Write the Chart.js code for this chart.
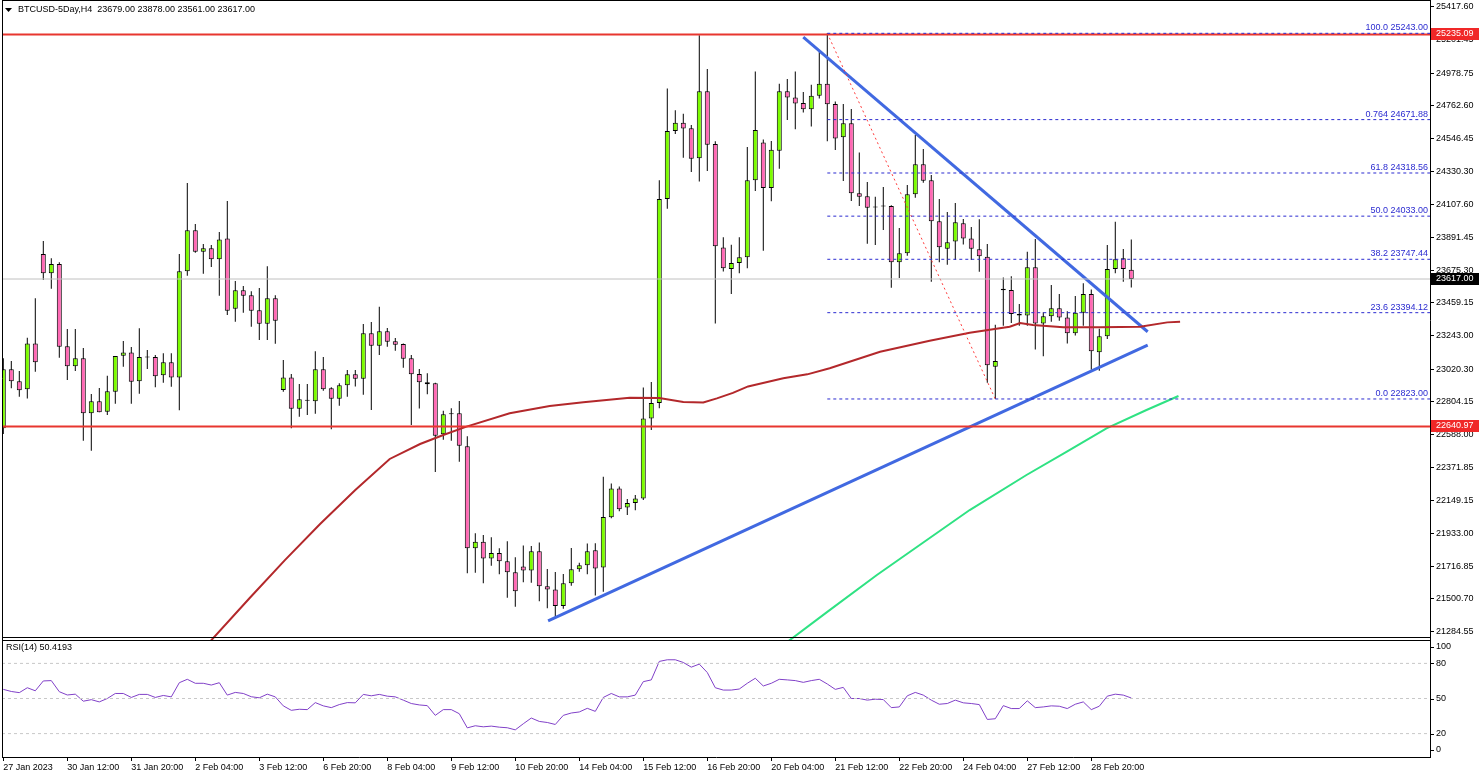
<!DOCTYPE html>
<html>
<head>
<meta charset="utf-8">
<title>BTCUSD-5Day, H4</title>
<script src="https://cdn.jsdelivr.net/npm/chart.js@4.4.0/dist/chart.umd.min.js"></script>
<style>
  html, body { margin: 0; padding: 0; background: #fff; }
  #wrap { width: 1480px; height: 777px; }
</style>
</head>
<body>
<div id="wrap"><canvas id="btc" width="1480" height="777"></canvas></div>
<script>
// H4 candles, one per bar index (27 Jan 2023 -> 1 Mar 2023)
const opens = [
  22629,23019,22940,22887,23191, 23782,23655,23716,23172,23040,
  23092,22728,22808,22739,22871, 23109,23131,22940,23101,23101,
  22980,23066,22966,23668,23939, 23798,23820,23747,23885,23420,
  23542,23509,23410,23321,23489, 22882,22966,22759,22816,22808,
  23019,22894,22825,22914,22986, 22957,23258,23176,23271,23205,
  23187,23092,22988,22933,22927, 22589,22726,22728,22510,21835,
  21878,21768,21804,21749,21676, 21715,21688,21815,21583,21563,
  21453,21603,21696,21722,21822, 21708,22040,22231,22105,22135,
  22164,22694,22796,24147,24596, 24651,24615,24416,24859,24511,
  23826,23683,23723,23761,24270, 24521,24219,24465,24859,24818,
  24782,24741,24830,24909,24775, 24555,24647,24184,24164,24093,
  24100,24100,23728,23787,24178, 24376,24270,23999,23818,23866,
  23986,23885,23814,23765,23037, 23553,23545,23385,23376,23694,
  23323,23370,23423,23363,23258, 23393,23518,23132,23238,23683,
  23754,23679
];
const highs = [
  23092,23074,23008,23228,23489, 23868,23754,23728,23286,23286,
  23160,22856,22896,22977,23107, 23207,23167,23291,23147,23114,
  23125,23125,23782,24252,23981, 23849,23842,23928,24133,23604,
  23571,23536,23557,23702,23509, 23081,22988,22922,22922,23139,
  23101,22900,22927,23015,23015, 23319,23332,23434,23293,23227,
  23190,23114,23021,22993,22930, 22745,22761,22809,22576,21934,
  21923,21908,21835,21881,21775, 21854,21850,21874,21698,21678,
  21665,21837,21740,21867,21869, 22309,22264,22244,22161,22188,
  22899,22935,24270,24878,24733, 24710,24637,25230,25007,24528,
  23894,23843,23894,24491,24990, 24540,24531,24909,24941,24990,
  24855,24902,25119,25243,24791, 24775,24742,24455,24259,24162,
  24226,24105,23955,24239,24570, 24477,24305,24147,24060,24120,
  24014,23961,24012,23849,23315, 23627,23636,23452,23798,23882,
  23397,23577,23517,23403,23504, 23589,23548,23288,23842,23996,
  23816,23878
];
const lows = [
  22591,22894,22838,22827,23004, 23610,23553,23096,22949,23008,
  22547,22481,22735,22717,22792, 23037,22792,22858,23022,22900,
  22931,22904,22748,23639,23791, 23652,23696,23507,23379,23334,
  23394,23301,23213,23213,23189, 22871,22629,22706,22717,22726,
  22878,22622,22779,22838,22905, 22851,22750,23114,23169,23143,
  23030,22651,22760,22854,22340, 22554,22547,22408,21669,21673,
  21603,21719,21663,21508,21448, 21610,21607,21484,21438,21382,
  21435,21587,21680,21663,21522, 21548,22033,22080,22055,22086,
  22154,22617,22761,24082,24577, 24419,24325,24263,24332,23322,
  23667,23517,23655,23688,24200, 23804,24132,24347,24669,24608,
  24719,24627,24811,24528,24471, 24265,24133,24100,23851,23842,
  23941,23559,23624,23771,24155, 24254,23599,23728,23712,23743,
  23846,23743,23665,22931,22823, 23308,23326,23308,23308,23150,
  23105,23334,23340,23191,23243, 23308,23017,23010,23220,23655,
  23599,23561
];
const closes = [
  23019,22940,22880,23191,23066, 23655,23716,23169,23040,23092,
  22728,22808,22735,22874,23107, 23131,22937,23101,23098,22973,
  23066,22966,23668,23939,23798, 23820,23747,23879,23407,23542,
  23507,23407,23321,23489,23340, 22966,22759,22821,22812,23019,
  22887,22825,22914,22986,22957, 23258,23176,23271,23202,23182,
  23090,22986,22933,22920,22580, 22722,22722,22514,21835,21878,
  21768,21804,21749,21676,21550, 21688,21815,21583,21563,21453,
  21603,21696,21722,21815,21702, 22042,22231,22093,22135,22164,
  22694,22796,24147,24596,24651, 24613,24412,24859,24506,23833,
  23688,23723,23761,24270,24603, 24219,24472,24859,24818,24779,
  24741,24830,24909,24773,24547, 24647,24184,24162,24089,24090,
  24097,23728,23787,24178,24376, 24268,23999,23827,23860,23992,
  23885,23818,23767,23046,23074, 23542,23385,23376,23694,23323,
  23370,23423,23363,23258,23393, 23518,23139,23238,23683,23747,
  23683,23617
];
// RSI(14), one value per bar
const rsi = [
  57.8,56,55,59.2,56.6, 65,65.3,55.8,53,53.7,
  47.7,49,47.1,50,54.3, 54.3,50.9,53.5,53.5,50.9,
  52.6,51.4,63.5,66.4,63, 63,61.5,63.5,52.9,55.2,
  54.3,51.5,50.6,53.7,51.4, 43.7,39.9,40.8,40.5,46.5,
  43.7,42.2,44.8,46.5,46.3, 53.5,52.3,53.5,52,51.4,
  48.6,45.7,44.5,43.9,35.6, 40.5,40.5,37,24.9,26.7,
  25.8,26.4,25.5,25,23.2, 28.4,33.3,30.4,29.5,27.8,
  35.6,37.6,38.5,41.6,39, 50.9,54.3,51.4,51.4,52.9,
  64.4,65.9,81.7,83.1,83.1, 80.8,76.8,79.4,72.2,59.2,
  57.2,57.2,58.1,63,67.3, 60.7,63,66.4,65.9,65.3,
  63.8,65.3,66.4,62.4,57.8, 59.5,50,50,48.6,49.4,
  49.1,42.2,42.8,52.3,55.2, 52.9,48.6,45.1,45.7,48.6,
  46.3,45.7,44.8,32.1,32.7, 43.9,41.4,41.4,48,42.2,
  42.8,43.7,43.4,41.4,45.1, 47.1,40.5,43.4,52,53.7,
  52.9,50.4193
];

// time axis: one label every 8 bars
const dateLabels = ['27 Jan 2023', '30 Jan 12:00', '31 Jan 20:00', '2 Feb 04:00', '3 Feb 12:00',
  '6 Feb 20:00', '8 Feb 04:00', '9 Feb 12:00', '10 Feb 20:00', '14 Feb 04:00', '15 Feb 12:00',
  '16 Feb 20:00', '20 Feb 04:00', '21 Feb 12:00', '22 Feb 20:00', '24 Feb 04:00', '27 Feb 12:00',
  '28 Feb 20:00'];
const priceTicks = [25417.60, 25201.45, 24978.75, 24762.60, 24546.45, 24330.30, 24107.60,
  23891.45, 23675.30, 23459.15, 23243.00, 23020.30, 22804.15, 22588.00, 22371.85, 22149.15,
  21933.00, 21716.85, 21500.70, 21284.55];
const rsiTicks = [100, 80, 50, 20, 0];
const rsiLevels = [80, 50, 20];

// moving averages read at bar positions
const maRedBars = [25.8, 30.8, 35.2, 39.6, 44.0, 48.3, 52.1, 55.0, 57.9, 63.3, 68.3, 72.5, 78.3, 82.0,
  85.0, 87.5, 89.2, 91.2, 93.1, 95.5, 97.5, 100.5, 103.3, 109.6, 115.8, 120.8, 125.8, 127.1, 128.7,
  132.5, 137.1, 142.1, 145.5, 147.1];
const maRedVals = [21215, 21506, 21757, 21996, 22221, 22426, 22525, 22585, 22640, 22728, 22777, 22801,
  22831, 22829, 22803, 22800, 22827, 22863, 22906, 22935, 22960, 22986, 23026, 23136, 23209, 23262,
  23301, 23326, 23313, 23297, 23297, 23301, 23330, 23334];
const maGreenBars = [98.0, 103.0, 109.2, 115.0, 120.8, 127.9, 133.0, 137.9, 142.9, 146.9];
const maGreenVals = [21215, 21414, 21658, 21873, 22088, 22320, 22477, 22629, 22750, 22843];

// drawn objects
const supportBars = [68.1, 143.05], supportVals = [21354, 23180];
const resistBars = [100.0, 143.05], resistVals = [25218, 23268];
const fibDiagBars = [103, 124], fibDiagVals = [25243, 22823];
const fibStart = 103;
const fibLevels = [25243.00, 24671.88, 24318.56, 24033.00, 23747.44, 23394.12, 22823.00];
const fibTags = ['100.0', '0.764', '61.8', '50.0', '38.2', '23.6', '0.0'];
const redLevels = [25235.09, 22640.97];
const lastPrice = 23617.00;

const X_MIN = -0.1625, X_MAX = 178.34;
const FONT = 'Liberation Sans, Arial, sans-serif';

function pts(xs, ys) {
  return xs.map((x, i) => ({ x: x, y: ys[i] }));
}
function lineSet(data, color, width, dash, axis) {
  return {
    type: 'line', data: data, yAxisID: axis || 'y',
    borderColor: color, borderWidth: width, borderDash: dash || [],
    pointRadius: 0, fill: false, tension: 0, order: 1
  };
}
function noPad(ax) {
  ax.paddingTop = 0;
  ax.paddingBottom = 0;
  ax.paddingLeft = 0;
  ax.paddingRight = 0;
}

const idx = opens.map((o, i) => i);
const datasets = [];

datasets.push({
  type: 'bar', yAxisID: 'y', order: 5, grouped: false,
  data: idx.map(i => ({ x: i, y: [lows[i], highs[i]] })),
  backgroundColor: '#000', barThickness: 1, borderWidth: 0, inflateAmount: 0
});
datasets.push({
  type: 'bar', yAxisID: 'y', order: 4, grouped: false,
  data: idx.map(i => ({ x: i, y: [opens[i], closes[i]] })),
  backgroundColor: idx.map(i => closes[i] >= opens[i] ? '#7cfc00' : '#ff69b4'),
  borderColor: '#000', borderWidth: 1, borderSkipped: false,
  barThickness: 5, minBarLength: 1, inflateAmount: 0
});

datasets.push(lineSet(pts([X_MIN, X_MAX], [lastPrice, lastPrice]), '#c0c0c0', 1));
fibLevels.forEach(v => datasets.push(lineSet(pts([fibStart, X_MAX], [v, v]), '#2b2bd0', 1, [3, 3])));
redLevels.forEach(v => datasets.push(lineSet(pts([X_MIN, X_MAX], [v, v]), '#e8362f', 2)));
datasets.push(lineSet(pts(fibDiagBars, fibDiagVals), '#ff3b3b', 1, [2, 3]));
datasets.push(lineSet(pts(maRedBars, maRedVals), '#b3282b', 2));
datasets.push(lineSet(pts(maGreenBars, maGreenVals), '#2fe283', 2));
datasets.push(lineSet(pts(supportBars, supportVals), '#4169e1', 3));
datasets.push(lineSet(pts(resistBars, resistVals), '#4169e1', 3));

rsiLevels.forEach(v => datasets.push(lineSet(pts([X_MIN, X_MAX], [v, v]), '#c8c8c8', 1, [3, 3], 'rsiY')));
datasets.push(lineSet(idx.map(i => ({ x: i, y: rsi[i] })), '#8040c8', 1, [], 'rsiY'));

// texts and frames that sit on top of the plot
const overlay = {
  id: 'overlay',
  afterDraw(chart) {
    const ctx = chart.ctx;
    const y = chart.scales.y, r = chart.scales.rsiY;
    const area = chart.chartArea;
    ctx.save();

    // panel frames
    ctx.strokeStyle = '#000';
    ctx.lineWidth = 1;
    ctx.beginPath();
    ctx.moveTo(2.5, 0); ctx.lineTo(2.5, area.bottom);
    ctx.moveTo(2, 0.5); ctx.lineTo(area.right, 0.5);
    ctx.moveTo(2, y.bottom - 2.5); ctx.lineTo(area.right, y.bottom - 2.5);
    ctx.moveTo(2, r.top + 0.5); ctx.lineTo(area.right, r.top + 0.5);
    ctx.stroke();

    ctx.font = '9px ' + FONT;

    // fibonacci labels
    ctx.fillStyle = '#2b2bd0';
    ctx.textAlign = 'right';
    ctx.textBaseline = 'bottom';
    fibLevels.forEach((v, i) => {
      ctx.fillText(fibTags[i] + ' ' + v.toFixed(2), area.right - 2, y.getPixelForValue(v) - 1);
    });

    // RSI scale labels
    ctx.fillStyle = '#000';
    ctx.textAlign = 'left';
    ctx.textBaseline = 'middle';
    rsiTicks.forEach(v => {
      let py = r.getPixelForValue(v);
      if (v === 100) py += 7;
      if (v === 0) py -= 7;
      ctx.beginPath();
      ctx.moveTo(area.right, Math.round(py) + 0.5);
      ctx.lineTo(area.right + 4, Math.round(py) + 0.5);
      ctx.stroke();
      ctx.fillText(String(v), area.right + 6, py);
    });

    // price boxes on the right scale
    const boxes = [[redLevels[0], '#f02828'], [lastPrice, '#000'], [redLevels[1], '#f02828']];
    boxes.forEach(b => {
      const py = Math.round(y.getPixelForValue(b[0]));
      ctx.fillStyle = b[1];
      ctx.fillRect(area.right + 1, py - 6, 48, 12);
      ctx.fillStyle = '#fff';
      ctx.fillText(b[0].toFixed(2), area.right + 6, py);
    });

    // header and indicator name
    ctx.fillStyle = '#000';
    ctx.beginPath();
    ctx.moveTo(5, 8); ctx.lineTo(12, 8); ctx.lineTo(8.5, 12);
    ctx.closePath();
    ctx.fill();
    ctx.fillText('BTCUSD-5Day,H4  23679.00 23878.00 23561.00 23617.00', 18, 10);
    ctx.fillText('RSI(14) 50.4193', 6, r.top + 8);

    ctx.restore();
  }
};

const chart = new Chart(document.getElementById('btc').getContext('2d'), {
  type: 'bar',
  data: { datasets: datasets },
  options: {
    responsive: false,
    animation: false,
    devicePixelRatio: 1,
    layout: { padding: { left: 2, right: 0, top: 0, bottom: 0 } },
    plugins: {
      legend: { display: false },
      tooltip: { enabled: false }
    },
    scales: {
      x: {
        type: 'linear', min: X_MIN, max: X_MAX, offset: false,
        grid: { drawOnChartArea: false, drawTicks: true, tickLength: 4, color: '#000', offset: false },
        border: { display: true, color: '#000' },
        afterBuildTicks: ax => { ax.ticks = dateLabels.map((t, i) => ({ value: i * 8 })); },
        afterFit: ax => { ax.height = 20; noPad(ax); },
        ticks: {
          autoSkip: false, maxRotation: 0, minRotation: 0, align: 'start', padding: 1,
          color: '#000', font: { family: FONT, size: 9 },
          callback: v => dateLabels[Math.round(v / 8)]
        }
      },
      y: {
        type: 'linear', position: 'right', stack: 'panes', stackWeight: 640,
        min: 21228, max: 25463.4,
        grid: { drawOnChartArea: false, drawTicks: true, tickLength: 4, color: '#000' },
        border: { display: true, color: '#000' },
        afterBuildTicks: ax => { ax.ticks = priceTicks.map(v => ({ value: v })); },
        afterFit: ax => { ax.width = 50; noPad(ax); },
        ticks: {
          autoSkip: false, padding: 2, color: '#000', font: { family: FONT, size: 9 },
          callback: v => v.toFixed(2)
        }
      },
      rsiY: {
        type: 'linear', position: 'right', stack: 'panes', stackWeight: 117,
        min: 0, max: 100,
        grid: { display: false },
        border: { display: true, color: '#000' },
        afterFit: ax => { ax.width = 50; noPad(ax); },
        ticks: { display: false }
      }
    }
  },
  plugins: [overlay]
});
</script>
</body>
</html>
